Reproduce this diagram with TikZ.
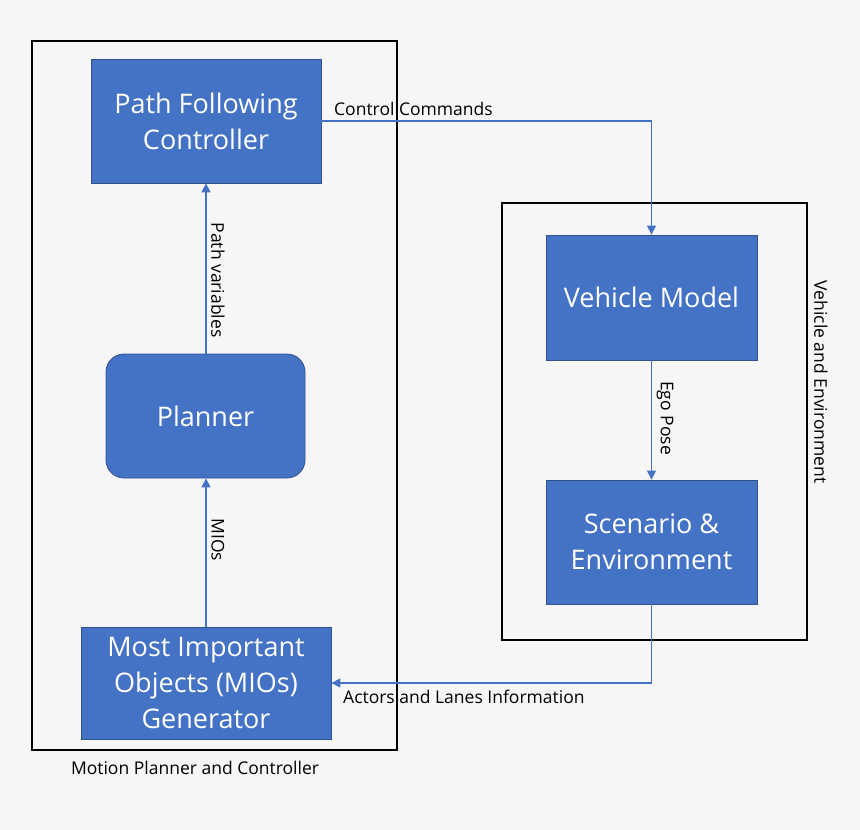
\documentclass[tikz,border=0pt]{standalone}
\usepackage{fontspec}
\setmainfont{Open Sans}
\usetikzlibrary{arrows.meta,calc}
\definecolor{bg}{HTML}{F6F6F6}
\definecolor{boxblue}{HTML}{4472C4}
\definecolor{boxedge}{HTML}{2F528F}
\definecolor{linkblue}{HTML}{4472C4}
\tikzset{
  block/.style={draw=boxedge, line width=0.8pt, fill=boxblue, text=white, align=center,
    font=\fontsize{27}{36}\selectfont, inner sep=0pt},
  frame/.style={draw=black, line width=1.4pt, inner sep=0pt},
  conn/.style={draw=linkblue, line width=1.4pt, -{Triangle[width=9pt,length=9pt]}},
  lbl/.style={font=\fontsize{17.5}{21}\selectfont, text=black, inner sep=0pt},
}
\begin{document}
\begin{tikzpicture}[x=1pt,y=-1pt]
\useasboundingbox[fill=bg] (0,0) rectangle (860,830);
% frames
\node[frame, minimum width=365pt, minimum height=709pt] (lframe) at (214.5,395.5) {};
\node[frame, minimum width=305pt, minimum height=437pt] (rframe) at (654.5,421.5) {};
% blocks
\node[block, minimum width=230pt, minimum height=124pt] (pfc) at (206,121) {Path Following\\Controller};
\node[block, rounded corners=18pt, minimum width=199pt, minimum height=124pt] (pl) at (205.5,416) {Planner};
\node[block, minimum width=250pt, minimum height=112pt] (mio) at (206,683) {Most Important\\Objects (MIOs)\\Generator};
\node[block, minimum width=211pt, minimum height=125pt] (vm) at (651.5,297.5) {Vehicle Model};
\node[block, minimum width=211pt, minimum height=124pt] (sc) at (651.5,542) {Scenario \&\\Environment};
% connectors
\draw[conn] (pfc.east) -- (pfc.east -| vm.north) -- (vm.north);
\draw[conn] (pl.north -| pfc.south) -- (pfc.south);
\draw[conn] (mio.north) -- (mio.north |- pl.south);
\draw[conn] (vm.south) -- (sc.north);
\draw[conn] (sc.south) |- (mio.east);
% labels
\node[lbl, anchor=south west] (lcc) at (334,116) {Control Commands};
\node[lbl, rotate=-90] (lpv) at (218,280) {Path variables};
\node[lbl, rotate=-90] (lmio) at (218,540) {MIOs};
\node[lbl, rotate=-90] (lego) at (665,418) {Ego Pose};
\node[lbl, anchor=north west] (lal) at (343,690) {Actors and Lanes Information};
\node[lbl, rotate=-90] (lve) at (821,382) {Vehicle and Environment};
\node[lbl] (lmp) at (195,768) {Motion Planner and Controller};
\end{tikzpicture}
\end{document}
